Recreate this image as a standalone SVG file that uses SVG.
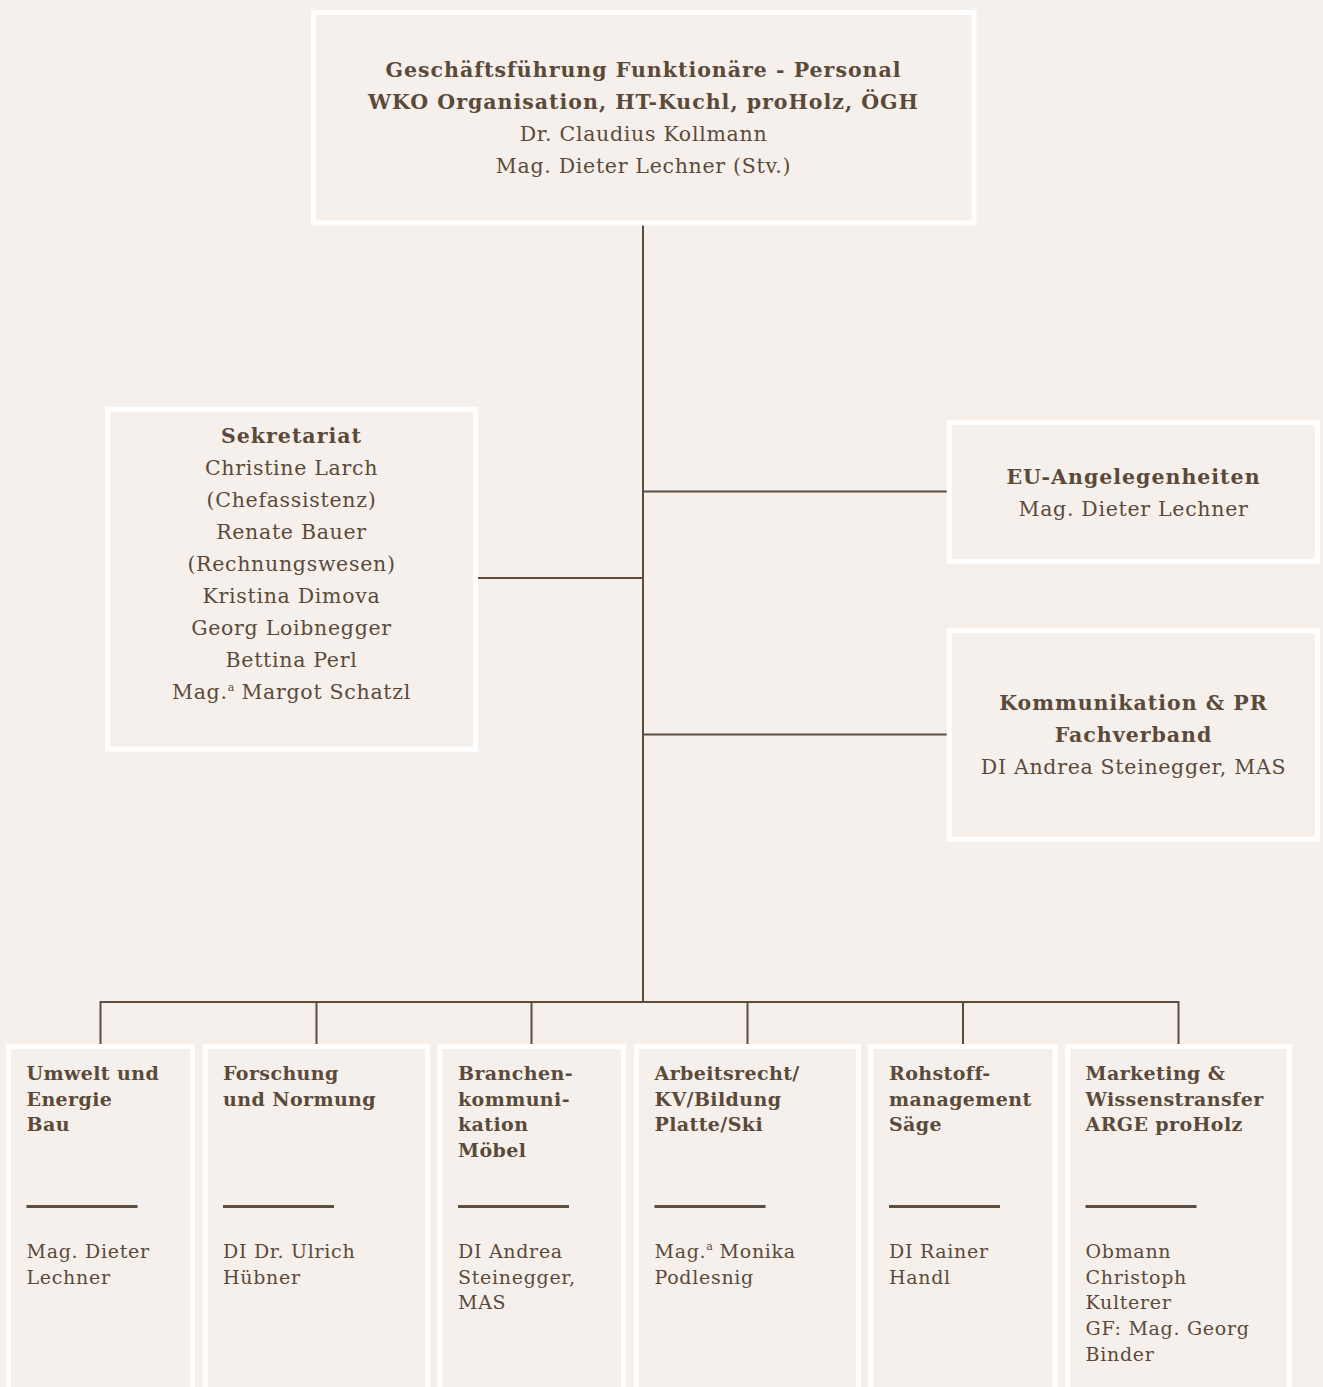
<svg xmlns="http://www.w3.org/2000/svg" width="1323" height="1387" viewBox="0 0 1323 1387">
  <style>
    .bg { fill: #f5f0ec; }
    .box { fill: #f5f0ec; stroke: #ffffff; stroke-width: 5; }
    .wire { fill: none; stroke: #5e4d3c; stroke-width: 2; }
    .rule { stroke: #5e4d3c; stroke-width: 3; }
    text { font-family: "DejaVu Serif", "Liberation Serif", serif; fill: #5b4a39; }
    .c { text-anchor: middle; font-size: 20.5px; letter-spacing: 0.7px; }
    .c.b { letter-spacing: 1px; }
    .s { font-size: 19px; letter-spacing: 0.7px; }
    .s.b { letter-spacing: 0.4px; }
    .b { font-weight: bold; }
    .sup { font-size: 11px; letter-spacing: 0; }
  </style>
  <rect class="bg" x="0" y="0" width="1323" height="1387"/>

  <!-- connectors -->
  <g id="connectors">
    <line class="wire" x1="643" y1="225" x2="643" y2="1002"/>
    <line class="wire" x1="478" y1="578" x2="643" y2="578"/>
    <line class="wire" x1="643" y1="491.5" x2="947" y2="491.5"/>
    <line class="wire" x1="643" y1="734.5" x2="947" y2="734.5"/>
    <polyline class="wire" points="100.5,1044 100.5,1002 1178.5,1002 1178.5,1044"/>
    <line class="wire" x1="316.5" y1="1002" x2="316.5" y2="1044"/>
    <line class="wire" x1="531.5" y1="1002" x2="531.5" y2="1044"/>
    <line class="wire" x1="747.5" y1="1002" x2="747.5" y2="1044"/>
    <line class="wire" x1="963" y1="1002" x2="963" y2="1044"/>
  </g>

  <g id="geschaeftsfuehrung">
    <rect class="box" x="313.5" y="12.5" width="660.5" height="210.5"/>
    <text class="c b" x="643.5" y="77">Geschäftsführung Funktionäre - Personal</text>
    <text class="c b" x="643.5" y="109">WKO Organisation, HT-Kuchl, proHolz, ÖGH</text>
    <text class="c" x="643.5" y="141">Dr. Claudius Kollmann</text>
    <text class="c" x="643.5" y="173">Mag. Dieter Lechner (Stv.)</text>
  </g>

  <g id="sekretariat">
    <rect class="box" x="107.5" y="409.2" width="368" height="340"/>
    <text class="c b" x="291.5" y="443">Sekretariat</text>
    <text class="c" x="291.5" y="475">Christine Larch</text>
    <text class="c" x="291.5" y="507">(Chefassistenz)</text>
    <text class="c" x="291.5" y="539">Renate Bauer</text>
    <text class="c" x="291.5" y="571">(Rechnungswesen)</text>
    <text class="c" x="291.5" y="603">Kristina Dimova</text>
    <text class="c" x="291.5" y="635">Georg Loibnegger</text>
    <text class="c" x="291.5" y="667">Bettina Perl</text>
    <text class="c" x="291.5" y="699">Mag.<tspan class="sup" dy="-8">a</tspan><tspan dy="8"> Margot Schatzl</tspan></text>
  </g>

  <g id="eu-angelegenheiten">
    <rect class="box" x="949.2" y="422.5" width="368.3" height="139"/>
    <text class="c b" x="1133.5" y="484">EU-Angelegenheiten</text>
    <text class="c" x="1133.5" y="516">Mag. Dieter Lechner</text>
  </g>

  <g id="kommunikation">
    <rect class="box" x="949.2" y="630.8" width="368.3" height="208.4"/>
    <text class="c b" x="1133.5" y="710">Kommunikation &amp; PR</text>
    <text class="c b" x="1133.5" y="742">Fachverband</text>
    <text class="c" x="1133.5" y="774">DI Andrea Steinegger, MAS</text>
  </g>

  <g id="umwelt">
    <rect class="box" x="8.5" y="1046.5" width="184" height="400"/>
    <text class="s b" x="26.5" y="1080">Umwelt und</text>
    <text class="s b" x="26.5" y="1105.6">Energie</text>
    <text class="s b" x="26.5" y="1131.2">Bau</text>
    <line class="rule" x1="26.5" y1="1206.5" x2="137.5" y2="1206.5"/>
    <text class="s" x="26.5" y="1258">Mag. Dieter</text>
    <text class="s" x="26.5" y="1283.7">Lechner</text>
  </g>

  <g id="forschung">
    <rect class="box" x="205.2" y="1046.5" width="222.3" height="400"/>
    <text class="s b" x="223" y="1080">Forschung</text>
    <text class="s b" x="223" y="1105.6">und Normung</text>
    <line class="rule" x1="223" y1="1206.5" x2="334" y2="1206.5"/>
    <text class="s" x="223" y="1258">DI Dr. Ulrich</text>
    <text class="s" x="223" y="1283.7">Hübner</text>
  </g>

  <g id="branchenkommunikation">
    <rect class="box" x="439.8" y="1046.5" width="183.7" height="400"/>
    <text class="s b" x="458" y="1080">Branchen-</text>
    <text class="s b" x="458" y="1105.6">kommuni-</text>
    <text class="s b" x="458" y="1131.2">kation</text>
    <text class="s b" x="458" y="1156.8">Möbel</text>
    <line class="rule" x1="458" y1="1206.5" x2="569" y2="1206.5"/>
    <text class="s" x="458" y="1258">DI Andrea</text>
    <text class="s" x="458" y="1283.7">Steinegger,</text>
    <text class="s" x="458" y="1309.4">MAS</text>
  </g>

  <g id="arbeitsrecht">
    <rect class="box" x="636.5" y="1046.5" width="222" height="400"/>
    <text class="s b" x="654.5" y="1080">Arbeitsrecht/</text>
    <text class="s b" x="654.5" y="1105.6">KV/Bildung</text>
    <text class="s b" x="654.5" y="1131.2">Platte/Ski</text>
    <line class="rule" x1="654.5" y1="1206.5" x2="765.5" y2="1206.5"/>
    <text class="s" x="654.5" y="1258">Mag.<tspan class="sup" dy="-8">a</tspan><tspan dy="8"> Monika</tspan></text>
    <text class="s" x="654.5" y="1283.7">Podlesnig</text>
  </g>

  <g id="rohstoffmanagement">
    <rect class="box" x="870.8" y="1046.5" width="184.4" height="400"/>
    <text class="s b" x="889" y="1080">Rohstoff-</text>
    <text class="s b" x="889" y="1105.6">management</text>
    <text class="s b" x="889" y="1131.2">Säge</text>
    <line class="rule" x1="889" y1="1206.5" x2="1000" y2="1206.5"/>
    <text class="s" x="889" y="1258">DI Rainer</text>
    <text class="s" x="889" y="1283.7">Handl</text>
  </g>

  <g id="marketing">
    <rect class="box" x="1067.5" y="1046.5" width="221.7" height="400"/>
    <text class="s b" x="1085.5" y="1080">Marketing &amp;</text>
    <text class="s b" x="1085.5" y="1105.6">Wissenstransfer</text>
    <text class="s b" x="1085.5" y="1131.2">ARGE proHolz</text>
    <line class="rule" x1="1085.5" y1="1206.5" x2="1196.5" y2="1206.5"/>
    <text class="s" x="1085.5" y="1258">Obmann</text>
    <text class="s" x="1085.5" y="1283.7">Christoph</text>
    <text class="s" x="1085.5" y="1309.4">Kulterer</text>
    <text class="s" x="1085.5" y="1335">GF: Mag. Georg</text>
    <text class="s" x="1085.5" y="1360.7">Binder</text>
  </g>
</svg>
